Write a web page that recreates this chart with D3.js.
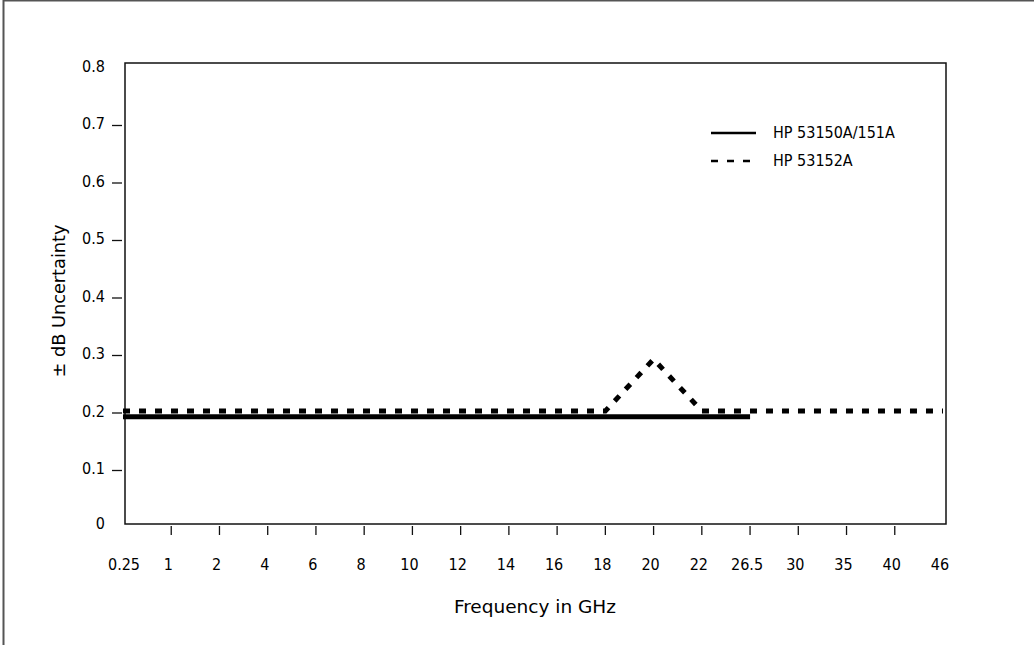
<!DOCTYPE html>
<html>
<head>
<meta charset="utf-8">
<script src="https://cdn.jsdelivr.net/npm/d3@7"></script>
<style>
  body { margin: 0; background: #fff; }
  svg text { font-family: "DejaVu Sans Condensed", "DejaVu Sans", sans-serif; font-stretch: condensed; fill: #000; }
</style>
</head>
<body>
<svg id="chart" width="1034" height="645"></svg>
<script>
// x categories (frequency in GHz), evenly spaced
var freqLabels = ["0.25", "1", "2", "4", "6", "8", "10", "12", "14", "16", "18", "20", "22", "26.5", "30", "35", "40", "46"];
var yTicks = [0, 0.1, 0.2, 0.3, 0.4, 0.5, 0.6, 0.7, 0.8];

// HP 53150A/151A
var solidFreq = ["0.25", "26.5"];
var solidVals = [0.19, 0.19];
// HP 53152A
var dashFreq = ["0.25", "18", "20", "22", "46"];
var dashVals = [0.2, 0.2, 0.29, 0.2, 0.2];

var legendNames = ["HP 53150A/151A", "HP 53152A"];

var svg = d3.select("#chart");

// outer frame (only top/left visible)
svg.append("rect")
  .attr("x", 3.5).attr("y", 0.5)
  .attr("width", 1100).attr("height", 700)
  .attr("fill", "none").attr("stroke", "#555").attr("stroke-width", 2);

var x = d3.scalePoint().domain(freqLabels).range([123, 943]);
var y = d3.scaleLinear().domain([0, 0.8]).range([526, 66]);

// plot frame
svg.append("rect")
  .attr("x", 125).attr("y", 63)
  .attr("width", 821).attr("height", 461)
  .attr("fill", "none").attr("stroke", "#111").attr("stroke-width", 1.5);

// y axis ticks + labels
var yg = svg.append("g");
yg.selectAll("line")
  .data(yTicks.filter(function (d) { return d > 0 && d < 0.8; }))
  .enter().append("line")
  .attr("x1", 112).attr("x2", 122)
  .attr("y1", function (d) { return y(d) + 2; })
  .attr("y2", function (d) { return y(d) + 2; })
  .attr("stroke", "#111").attr("stroke-width", 1.3);
yg.selectAll("text")
  .data(yTicks)
  .enter().append("text")
  .attr("x", 105)
  .attr("y", function (d) { return d === 0 ? y(d) - 3 : y(d); })
  .attr("dy", "0.35em")
  .attr("text-anchor", "end")
  .attr("font-size", 16)
  .text(function (d) { return d === 0 ? "0" : d3.format(".1f")(d); });

// x axis ticks + labels
var xg = svg.append("g");
xg.selectAll("line")
  .data(freqLabels.slice(1, -1))
  .enter().append("line")
  .attr("x1", function (d) { return x(d); })
  .attr("x2", function (d) { return x(d); })
  .attr("y1", 526).attr("y2", 535)
  .attr("stroke", "#111").attr("stroke-width", 1.3);
xg.selectAll("text")
  .data(freqLabels)
  .enter().append("text")
  .attr("x", function (d, i) { return i === 0 ? x(d) + 1 : x(d) - 3; })
  .attr("y", 564)
  .attr("dy", "0.35em")
  .attr("text-anchor", "middle")
  .attr("font-size", 16)
  .text(function (d) { return d; });

// axis titles
svg.append("text")
  .attr("x", 535).attr("y", 607)
  .attr("dy", "0.35em")
  .attr("text-anchor", "middle")
  .attr("font-size", 17)
  .attr("textLength", 162)
  .attr("lengthAdjust", "spacingAndGlyphs")
  .text("Frequency in GHz");
svg.append("text")
  .attr("transform", "translate(59,301) rotate(-90)")
  .attr("dy", "0.35em")
  .attr("text-anchor", "middle")
  .attr("font-size", 17)
  .attr("textLength", 153)
  .attr("lengthAdjust", "spacingAndGlyphs")
  .text("\u00B1 dB Uncertainty");

// series
var line = d3.line()
  .x(function (d) { return x(d[0]); })
  .y(function (d) { return y(d[1]); });

svg.append("path")
  .attr("d", line(d3.zip(solidFreq, solidVals)))
  .attr("fill", "none").attr("stroke", "#000").attr("stroke-width", 5);

svg.append("path")
  .attr("d", line(d3.zip(dashFreq, dashVals)))
  .attr("fill", "none").attr("stroke", "#000").attr("stroke-width", 5)
  .attr("stroke-dasharray", "7,9");

// legend
var lg = svg.append("g");
lg.selectAll("line")
  .data(legendNames)
  .enter().append("line")
  .attr("x1", 711).attr("x2", 756)
  .attr("y1", function (d, i) { return 133 + i * 28; })
  .attr("y2", function (d, i) { return 133 + i * 28; })
  .attr("stroke", "#000").attr("stroke-width", 2.5)
  .attr("stroke-dasharray", function (d, i) { return i === 1 ? "7,9" : null; });
lg.selectAll("text")
  .data(legendNames)
  .enter().append("text")
  .attr("x", 773)
  .attr("y", function (d, i) { return 132 + i * 28; })
  .attr("dy", "0.35em")
  .attr("font-size", 16)
  .text(function (d) { return d; });
</script>
</body>
</html>
